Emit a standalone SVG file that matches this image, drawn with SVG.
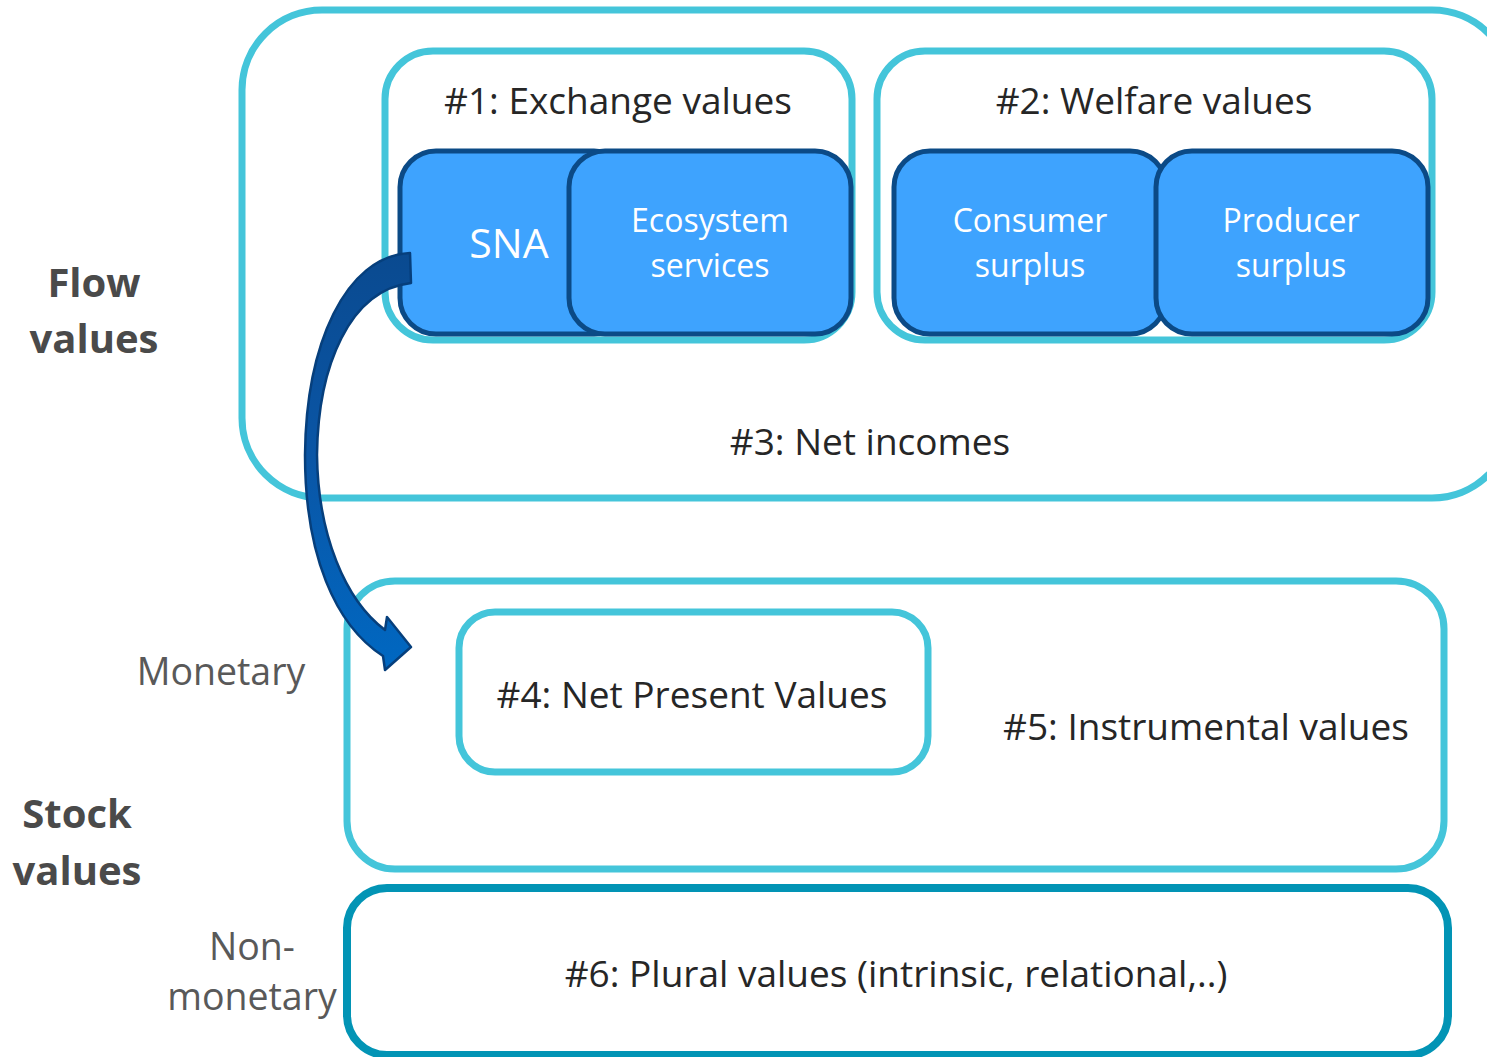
<svg xmlns="http://www.w3.org/2000/svg" width="1487" height="1057" viewBox="0 0 1487 1057">
  <defs>
    <linearGradient id="arrowFill" x1="0" y1="0" x2="0" y2="1">
      <stop offset="0" stop-color="#0A4A90"/>
      <stop offset="0.5" stop-color="#0A56A6"/>
      <stop offset="1" stop-color="#0068C2"/>
    </linearGradient>
    <style>
      .frame { fill: #FFFFFF; stroke: #44C5DA; stroke-width: 7; }
      .frame-dark { fill: #FFFFFF; stroke: #0294B5; stroke-width: 8; }
      .tile { fill: #3EA3FE; stroke: #0B4A86; stroke-width: 5; }
      .lbl { font-family: "Open Sans", "Liberation Sans", sans-serif; font-size: 37px; fill: #262626; text-anchor: middle; }
      .tile-lbl { font-family: "Open Sans", "Liberation Sans", sans-serif; font-size: 32px; fill: #FFFFFF; text-anchor: middle; }
      .side { font-family: "Open Sans", "Liberation Sans", sans-serif; font-size: 37.5px; fill: #595959; text-anchor: middle; }
      .side-bold { font-family: "Open Sans", "Liberation Sans", sans-serif; font-size: 40px; font-weight: bold; fill: #4A4A4A; text-anchor: middle; }
    </style>
  </defs>

  <rect width="1487" height="1057" fill="#FFFFFF"/>

  <!-- side labels -->
  <g id="flow-label">
    <text class="side-bold" x="94" y="297">Flow</text>
    <text class="side-bold" x="94" y="353">values</text>
  </g>
  <g id="stock-label">
    <text class="side-bold" x="77" y="828">Stock</text>
    <text class="side-bold" x="77" y="885">values</text>
  </g>
  <g id="monetary-label">
    <text class="side" x="221" y="685">Monetary</text>
  </g>
  <g id="nonmonetary-label">
    <text class="side" x="252" y="960">Non-</text>
    <text class="side" x="252" y="1010">monetary</text>
  </g>

  <!-- #3: flow values frame -->
  <g id="net-incomes">
    <rect class="frame" x="242" y="10" width="1270" height="488" rx="80" ry="80"/>
    <text class="lbl" x="870" y="455">#3: Net incomes</text>
  </g>

  <!-- #1: exchange values -->
  <g id="exchange-values">
    <rect class="frame" x="385" y="51" width="467" height="289" rx="48" ry="48"/>
    <text class="lbl" x="618" y="114">#1: Exchange values</text>
  </g>
  <g id="sna">
    <rect class="tile" x="400" y="151" width="230" height="183" rx="36" ry="36"/>
    <text class="tile-lbl" x="509" y="258" style="font-size:41px">SNA</text>
  </g>
  <g id="ecosystem-services">
    <rect class="tile" x="569" y="151" width="282" height="183" rx="36" ry="36"/>
    <text class="tile-lbl" x="710" y="232">Ecosystem</text>
    <text class="tile-lbl" x="710" y="277">services</text>
  </g>

  <!-- #2: welfare values -->
  <g id="welfare-values">
    <rect class="frame" x="877" y="51" width="555" height="289" rx="48" ry="48"/>
    <text class="lbl" x="1154" y="114">#2: Welfare values</text>
  </g>
  <g id="consumer-surplus">
    <rect class="tile" x="894" y="151" width="272" height="183" rx="36" ry="36"/>
    <text class="tile-lbl" x="1030" y="232">Consumer</text>
    <text class="tile-lbl" x="1030" y="277">surplus</text>
  </g>
  <g id="producer-surplus">
    <rect class="tile" x="1156" y="151" width="272" height="183" rx="36" ry="36"/>
    <text class="tile-lbl" x="1291" y="232">Producer</text>
    <text class="tile-lbl" x="1291" y="277">surplus</text>
  </g>

  <!-- #5: monetary stock values -->
  <g id="instrumental-values">
    <rect class="frame" x="347" y="581" width="1097" height="288" rx="48" ry="48"/>
    <text class="lbl" x="1206" y="740">#5: Instrumental values</text>
  </g>
  <g id="net-present-values">
    <rect class="frame" x="459" y="612" width="469" height="160" rx="36" ry="36"/>
    <text class="lbl" x="692" y="708">#4: Net Present Values</text>
  </g>

  <!-- #6: non-monetary stock values -->
  <g id="plural-values">
    <rect class="frame-dark" x="347" y="888" width="1101" height="167" rx="40" ry="40"/>
    <text class="lbl" x="896" y="987">#6: Plural values (intrinsic, relational,..)</text>
  </g>

  <!-- connectors -->
  <g id="connectors">
    <path d="M 410 253 C 345 256, 306 345, 305 455 C 305 555, 335 625, 383 656 L 385 670 L 411 647 L 387 617 L 385 630 C 345 600, 318 535, 317 455 C 318 365, 350 290, 411 283 Z"
          fill="url(#arrowFill)" stroke="#063F7C" stroke-width="2.5" stroke-linejoin="round"/>
  </g>
</svg>
